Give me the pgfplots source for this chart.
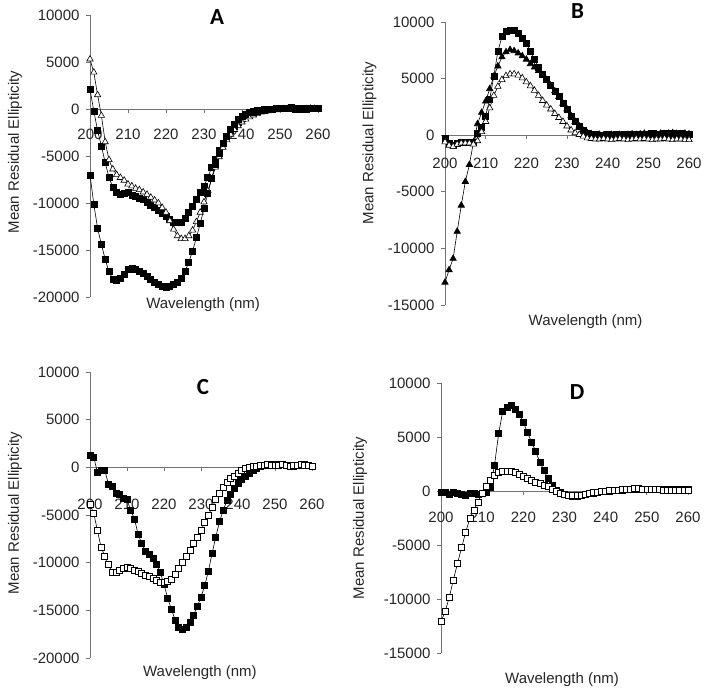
\documentclass[border=0pt]{standalone}
\usepackage{fontspec}
\setmainfont{Liberation Sans}
\newfontfamily\letterfont{Carlito}
\usepackage{pgfplots}
\pgfplotsset{compat=1.18}
\newcommand{\lblfont}{\fontsize{15}{18}\selectfont}
\pgfplotsset{
  cdaxis/.style={
    scale only axis, enlargelimits=false, clip=false,
    xmin=200, xmax=260,
    axis x line=middle, axis y line=left,
    axis line style={-, draw=black!55, line width=0.8pt},
    tick align=outside, major tick length=4pt,
    tick style={draw=black!55, line width=0.8pt},
    hide obscured x ticks=false, hide obscured y ticks=false,
    scaled y ticks=false, scaled x ticks=false,
    xtick={200,210,220,230,240,250,260},
    xticklabels={200,210,220,230,240,250,260},
    tick label style={font=\lblfont, text=black!85},
    yticklabel style={xshift=-3pt},
    every axis title shift=0pt,
    title style={font=\letterfont\bfseries\fontsize{23}{26}\selectfont, anchor=center},
    xlabel={Wavelength (nm)},
    ylabel={Mean Residual Ellipticity},
  },
  fsq/.style={black, line width=0.6pt, mark=square*, mark size=3pt, mark options={solid, fill=black}},
  osq/.style={black, line width=0.6pt, mark=square*, mark size=3pt, mark options={solid, fill=white}},
  ftri/.style={black, line width=0.6pt, mark=triangle*, mark size=3.7pt, mark options={solid, fill=black}},
  otri/.style={black, line width=0.6pt, mark=triangle*, mark size=3.7pt, mark options={solid, fill=white}},
}
\begin{document}
\begin{tikzpicture}
\path[use as bounding box] (0pt,0pt) rectangle (714pt,-696pt);
% ---------------- A ----------------
\begin{axis}[cdaxis, at={(90pt,-297pt)}, anchor=south west, width=228pt, height=282pt,
  ymin=-20000, ymax=10000,
  ytick={-20000,-15000,-10000,-5000,0,5000,10000},
  yticklabels={-20000,-15000,-10000,-5000,0,5000,10000},
  xticklabel style={yshift=-12pt},
  title={A}, title style={at={(axis description cs:0.557,0.993)}},
  every axis x label/.style={at={(axis description cs:0.496,-0.028)}, anchor=center, font=\lblfont, text=black!85},
  every axis y label/.style={at={(axis description cs:-0.329,0.514)}, rotate=90, anchor=center, font=\lblfont, text=black!85}]
\addplot[fsq] coordinates {(200,2100)(201,-200)(202,-2300)(203,-3950)(204,-5700)(205,-7300)(206,-8300)(207,-8900)(208,-9100)(209,-8950)(210,-8900)(211,-9200)(212,-9300)(213,-9450)(214,-9650)(215,-9900)(216,-10200)(217,-10500)(218,-10800)(219,-11100)(220,-11400)(221,-11700)(222,-12000)(223,-12050)(224,-12000)(225,-11600)(226,-11000)(227,-10300)(228,-9600)(229,-8900)(230,-8200)(231,-7300)(232,-6200)(233,-5300)(234,-4400)(235,-3600)(236,-2900)(237,-2300)(238,-1800)(239,-1400)(240,-1000)(241,-700)(242,-450)(243,-250)(244,-150)(245,-100)(246,-50)(247,0)(248,0)(249,50)(250,50)(251,100)(252,100)(253,50)(254,0)(255,0)(256,50)(257,50)(258,100)(259,100)(260,50)};
\addplot[otri] coordinates {(200,5300)(201,3900)(202,1500)(203,-700)(204,-3500)(205,-5400)(206,-6400)(207,-7000)(208,-7300)(209,-7600)(210,-8000)(211,-8200)(212,-8450)(213,-8600)(214,-8850)(215,-9100)(216,-9400)(217,-9700)(218,-10000)(219,-10500)(220,-11000)(221,-11900)(222,-12800)(223,-13500)(224,-13800)(225,-13800)(226,-13500)(227,-12900)(228,-12000)(229,-11000)(230,-9900)(231,-8700)(232,-7500)(233,-6200)(234,-5100)(235,-4100)(236,-3300)(237,-2700)(238,-2200)(239,-1800)(240,-1400)(241,-1100)(242,-850)(243,-650)(244,-500)(245,-350)(246,-250)(247,-200)(248,-150)(249,-100)(250,-50)(251,0)(252,0)(253,0)(254,-50)(255,-100)(256,-50)(257,0)(258,50)(259,50)(260,0)};
\addplot[fsq] coordinates {(200,-7000)(201,-10100)(202,-12700)(203,-14400)(204,-16000)(205,-17300)(206,-18100)(207,-18200)(208,-18000)(209,-17600)(210,-17000)(211,-16900)(212,-17000)(213,-17300)(214,-17500)(215,-17800)(216,-18100)(217,-18400)(218,-18700)(219,-18900)(220,-19000)(221,-18900)(222,-18700)(223,-18400)(224,-18000)(225,-17300)(226,-16300)(227,-15100)(228,-13700)(229,-12200)(230,-10600)(231,-9000)(232,-7400)(233,-5900)(234,-4700)(235,-3700)(236,-2900)(237,-2200)(238,-1600)(239,-1100)(240,-800)(241,-550)(242,-400)(243,-300)(244,-200)(245,-150)(246,-100)(247,-50)(248,0)(249,50)(250,50)(251,100)(252,100)(253,150)(254,100)(255,50)(256,50)(257,0)(258,50)(259,100)(260,100)};
\end{axis}
% ---------------- B ----------------
\begin{axis}[cdaxis, at={(445pt,-305pt)}, anchor=south west, width=244pt, height=283pt,
  ymin=-15000, ymax=10000,
  ytick={-15000,-10000,-5000,0,5000,10000},
  yticklabels={-15000,-10000,-5000,0,5000,10000},
  xticklabel style={yshift=-15pt},
  title={B}, title style={at={(axis description cs:0.543,1.039)}},
  every axis x label/.style={at={(axis description cs:0.576,-0.06)}, anchor=center, font=\lblfont, text=black!85},
  every axis y label/.style={at={(axis description cs:-0.309,0.572)}, rotate=90, anchor=center, font=\lblfont, text=black!85}]
\addplot[fsq] coordinates {(200,-300)(201,-700)(202,-900)(203,-700)(204,-600)(205,-600)(206,-600)(207,-600)(208,200)(209,700)(210,1700)(211,3200)(212,5200)(213,7400)(214,8700)(215,9150)(216,9300)(217,9250)(218,9000)(219,8600)(220,8100)(221,7400)(222,6700)(223,6000)(224,5400)(225,4900)(226,4400)(227,3900)(228,3400)(229,2800)(230,2300)(231,1700)(232,1200)(233,800)(234,400)(235,200)(236,100)(237,50)(238,0)(239,0)(240,50)(241,0)(242,50)(243,0)(244,50)(245,100)(246,50)(247,100)(248,100)(249,50)(250,100)(251,150)(252,100)(253,100)(254,150)(255,100)(256,150)(257,100)(258,150)(259,100)(260,100)};
\addplot[ftri] coordinates {(200,-13000)(201,-11900)(202,-10900)(203,-8500)(204,-6200)(205,-4100)(206,-2600)(207,-600)(208,1000)(209,2000)(210,3000)(211,4100)(212,5200)(213,6100)(214,6900)(215,7350)(216,7550)(217,7450)(218,7250)(219,7000)(220,6700)(221,6300)(222,6000)(223,5700)(224,5300)(225,4900)(226,4400)(227,3900)(228,3400)(229,2800)(230,2300)(231,1700)(232,1200)(233,800)(234,400)(235,200)(236,100)(237,0)(238,50)(239,0)(240,0)(241,50)(242,0)(243,50)(244,0)(245,50)(246,100)(247,50)(248,100)(249,150)(250,100)(251,50)(252,100)(253,150)(254,100)(255,150)(256,200)(257,150)(258,100)(259,150)(260,100)};
\addplot[otri] coordinates {(200,-600)(201,-900)(202,-1000)(203,-800)(204,-700)(205,-700)(206,-700)(207,-800)(208,-500)(209,300)(210,1200)(211,2400)(212,3500)(213,4300)(214,4900)(215,5250)(216,5400)(217,5400)(218,5300)(219,5050)(220,4700)(221,4350)(222,3950)(223,3500)(224,3050)(225,2650)(226,2300)(227,1900)(228,1550)(229,1200)(230,800)(231,450)(232,200)(233,50)(234,-100)(235,-250)(236,-300)(237,-350)(238,-350)(239,-300)(240,-350)(241,-400)(242,-350)(243,-300)(244,-350)(245,-400)(246,-350)(247,-300)(248,-350)(249,-300)(250,-350)(251,-400)(252,-350)(253,-350)(254,-300)(255,-350)(256,-400)(257,-350)(258,-350)(259,-400)(260,-400)};
\end{axis}
% ---------------- C ----------------
\begin{axis}[cdaxis, at={(90pt,-658pt)}, anchor=south west, width=222pt, height=286pt,
  ymin=-20000, ymax=10000,
  ytick={-20000,-15000,-10000,-5000,0,5000,10000},
  yticklabels={-20000,-15000,-10000,-5000,0,5000,10000},
  xticklabel style={yshift=-24pt},
  title={C}, title style={at={(axis description cs:0.509,0.948)}},
  every axis x label/.style={at={(axis description cs:0.495,-0.052)}, anchor=center, font=\lblfont, text=black!85},
  every axis y label/.style={at={(axis description cs:-0.338,0.507)}, rotate=90, anchor=center, font=\lblfont, text=black!85}]
\addplot[fsq] coordinates {(200,1300)(201,1100)(202,-500)(203,-300)(204,-300)(205,-1800)(206,-2000)(207,-2700)(208,-2800)(209,-3200)(210,-3400)(211,-4500)(212,-5400)(213,-7000)(214,-8000)(215,-8800)(216,-9100)(217,-9500)(218,-10200)(219,-11000)(220,-12300)(221,-13700)(222,-14900)(223,-16000)(224,-16800)(225,-16950)(226,-16800)(227,-16300)(228,-15500)(229,-14600)(230,-13600)(231,-12400)(232,-10900)(233,-9000)(234,-7300)(235,-5700)(236,-4500)(237,-3500)(238,-2800)(239,-2200)(240,-1700)(241,-1300)(242,-900)(243,-600)(244,-300)(245,-100)(246,100)(247,200)(248,350)(249,300)(250,250)(251,300)(252,350)(253,250)(254,100)(255,150)(256,200)(257,250)(258,300)(259,250)(260,150)};
\addplot[osq] coordinates {(200,-3900)(201,-4800)(202,-6600)(203,-8400)(204,-9300)(205,-10200)(206,-11000)(207,-11050)(208,-10800)(209,-10550)(210,-10450)(211,-10600)(212,-10800)(213,-10950)(214,-11100)(215,-11300)(216,-11450)(217,-11650)(218,-11900)(219,-12050)(220,-12100)(221,-12000)(222,-11750)(223,-11250)(224,-10600)(225,-10000)(226,-9300)(227,-8700)(228,-8000)(229,-7300)(230,-6600)(231,-5800)(232,-5000)(233,-4200)(234,-3400)(235,-2700)(236,-2100)(237,-1600)(238,-1200)(239,-900)(240,-600)(241,-300)(242,-100)(243,50)(244,100)(245,150)(246,200)(247,250)(248,300)(249,250)(250,200)(251,250)(252,300)(253,200)(254,150)(255,200)(256,250)(257,300)(258,250)(259,200)(260,150)};
\end{axis}
% ---------------- D ----------------
\begin{axis}[cdaxis, at={(441pt,-653pt)}, anchor=south west, width=247pt, height=270pt,
  ymin=-15000, ymax=10000,
  ytick={-15000,-10000,-5000,0,5000,10000},
  yticklabels={-15000,-10000,-5000,0,5000,10000},
  xticklabel style={yshift=-13pt},
  title={D}, title style={at={(axis description cs:0.551,0.967)}},
  every axis x label/.style={at={(axis description cs:0.49,-0.1)}, anchor=center, font=\lblfont, text=black!85},
  every axis y label/.style={at={(axis description cs:-0.328,0.5)}, rotate=90, anchor=center, font=\lblfont, text=black!85}]
\addplot[fsq] coordinates {(200,-100)(201,-100)(202,-300)(203,-100)(204,-200)(205,-300)(206,-400)(207,-200)(208,-200)(209,-300)(210,-200)(211,-100)(212,300)(213,2400)(214,5300)(215,7400)(216,7750)(217,7900)(218,7550)(219,7100)(220,6350)(221,5400)(222,4550)(223,3650)(224,2700)(225,1900)(226,1150)(227,550)(228,100)(229,-150)(230,-300)(231,-400)(232,-450)(233,-450)(234,-400)(235,-350)(236,-250)(237,-200)(238,-100)(239,-50)(240,0)(241,0)(242,50)(243,100)(244,100)(245,150)(246,150)(247,200)(248,200)(249,150)(250,200)(251,200)(252,150)(253,200)(254,150)(255,200)(256,150)(257,150)(258,200)(259,150)(260,150)};
\addplot[osq] coordinates {(200,-12100)(201,-11150)(202,-9850)(203,-8250)(204,-6700)(205,-5250)(206,-3800)(207,-2550)(208,-1750)(209,-1000)(210,-200)(211,400)(212,1000)(213,1450)(214,1700)(215,1800)(216,1850)(217,1800)(218,1700)(219,1550)(220,1400)(221,1200)(222,1000)(223,850)(224,700)(225,550)(226,400)(227,200)(228,-50)(229,-200)(230,-300)(231,-370)(232,-420)(233,-400)(234,-370)(235,-300)(236,-220)(237,-150)(238,-100)(239,-50)(240,0)(241,50)(242,100)(243,100)(244,150)(245,150)(246,200)(247,250)(248,250)(249,200)(250,200)(251,150)(252,150)(253,150)(254,100)(255,100)(256,100)(257,100)(258,100)(259,100)(260,100)};
\end{axis}
\end{tikzpicture}
\end{document}
